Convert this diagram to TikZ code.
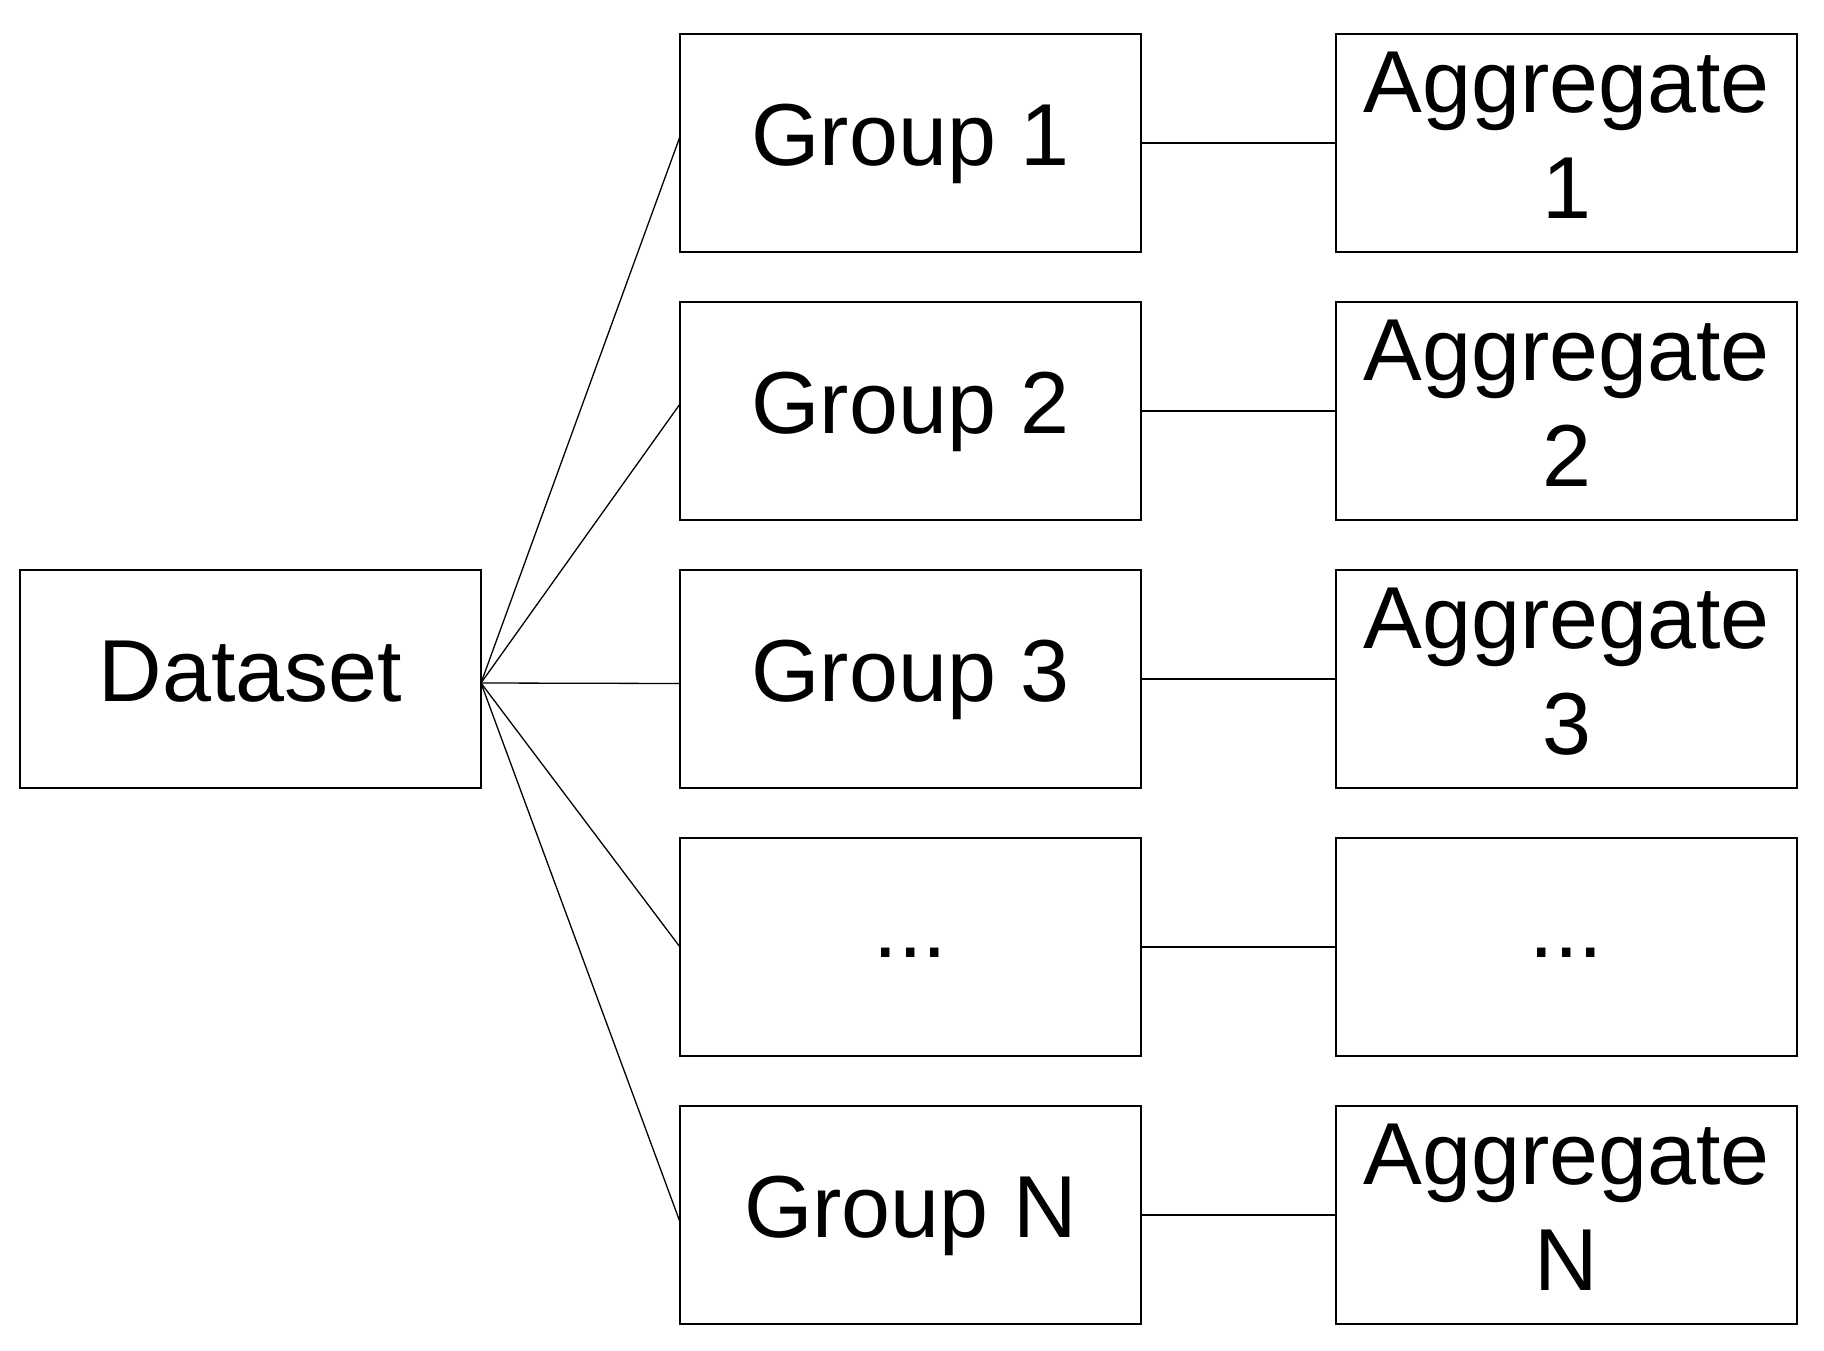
\documentclass[tikz,border=0pt]{standalone}
\usepackage{fontspec}
\setmainfont{Liberation Sans}
\usetikzlibrary{positioning}

\begin{document}
\begin{tikzpicture}[
        x=1pt, y=-1pt,
        node distance=50pt and 195pt,
        box/.style={draw, line width=2pt, minimum width=461pt, minimum height=218pt,
            inner sep=0pt, outer sep=0pt, align=center, text depth=16pt,
            font=\fontsize{88}{106}\selectfont},
        line/.style={line width=1.3pt}
    ]
    \useasboundingbox (0,0) rectangle (1824,1351);

    % Groups
    \node [box](G1) at (910.5,143) {Group 1};
    \node [box](G2) [below=of G1] {Group 2};
    \node [box](G3) [below=of G2] {Group 3};
    \node [box, text height=37pt](G4) [below=of G3] {...};
    \node [box](GN) [below=of G4] {Group N};

    % Aggregates
    \node [box](A1) [right=of G1] {Aggregate\\1};
    \node [box](A2) [right=of G2] {Aggregate\\2};
    \node [box](A3) [right=of G3] {Aggregate\\3};
    \node [box, text height=37pt](A4) [right=of G4] {...};
    \node [box](AN) [right=of GN] {Aggregate\\N};

    % Dataset
    \node [box](D) [left=199pt of G3] {Dataset};
    \coordinate (hub) at ([yshift=-4pt]D.east);

    % Split into groups
    \draw[line] (hub) -- ([yshift=6.5pt]G1.west);
    \draw[line] (hub) -- ([yshift=7pt]G2.west);
    \draw[line] (hub) -- ([yshift=-4.5pt]G3.west);
    \draw[line] (hub) -- (G4.west);
    \draw[line] (hub) -- ([yshift=-7pt]GN.west);

    % Group to aggregate
    \draw[line] (G1) -- (A1);
    \draw[line] (G2) -- (A2);
    \draw[line] (G3) -- (A3);
    \draw[line] (G4) -- (A4);
    \draw[line] (GN) -- (AN);

\end{tikzpicture}
\end{document}
